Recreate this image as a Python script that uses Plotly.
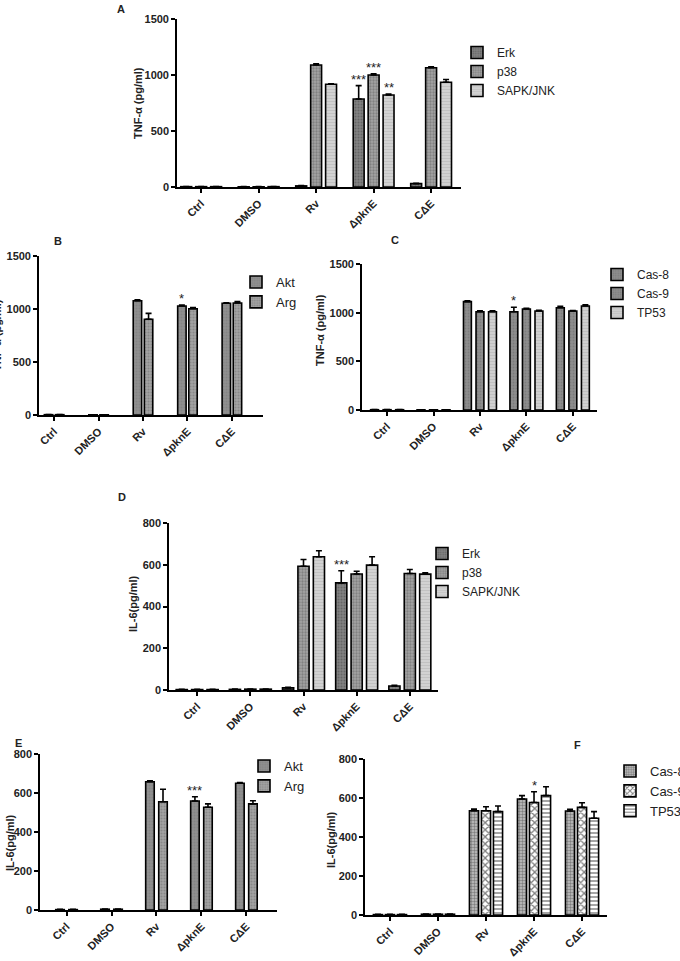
import plotly.graph_objects as go

W, H = 680, 961
FONT = "Liberation Sans, Arial, sans-serif"

cats = ["Ctrl", "DMSO", "Rv", "ΔpknE", "CΔE"]

# ---- Panel A: TNF-α (pg/ml), MAPK inhibitors ----
a_erk = [3, 2, 10, 786, 30]
a_erk_err = [1, 1, 3, 119, 4]
a_p38 = [3, 2, 1089, 1000, 1065]
a_p38_err = [1, 1, 10, 10, 8]
a_sapk = [3, 3, 917, 821, 935]
a_sapk_err = [1, 1, 5, 10, 25]

# ---- Panel B: TNF-α, Akt / Arg ----
b_akt = [3, 2, 1078, 1028, 1054]
b_akt_err = [1, 1, 8, 10, 4]
b_arg = [3, 2, 903, 1003, 1057]
b_arg_err = [1, 1, 56, 10, 13]

# ---- Panel C: TNF-α, Cas-8 / Cas-9 / TP53 ----
c_cas8 = [3, 2, 1113, 1010, 1050]
c_cas8_err = [1, 1, 8, 45, 15]
c_cas9 = [3, 2, 1010, 1038, 1017]
c_cas9_err = [1, 1, 10, 8, 5]
c_tp53 = [3, 2, 1010, 1017, 1069]
c_tp53_err = [1, 1, 10, 8, 13]

# ---- Panel D: IL-6, MAPK inhibitors ----
d_erk = [2, 3, 10, 513, 19]
d_erk_err = [1, 1, 3, 58, 3]
d_p38 = [2, 4, 593, 556, 558]
d_p38_err = [1, 1, 32, 13, 19]
d_sapk = [2, 4, 638, 598, 555]
d_sapk_err = [1, 1, 29, 40, 7]

# ---- Panel E: IL-6, Akt / Arg ----
e_akt = [2, 4, 658, 559, 650]
e_akt_err = [1, 1, 5, 22, 3]
e_arg = [2, 4, 555, 527, 544]
e_arg_err = [1, 1, 64, 17, 16]

# ---- Panel F: IL-6, Cas-8 / Cas-9 / TP53 ----
f_cas8 = [2, 4, 535, 595, 533]
f_cas8_err = [1, 1, 8, 17, 9]
f_cas9 = [2, 4, 535, 577, 552]
f_cas9_err = [1, 1, 20, 55, 24]
f_tp53 = [2, 4, 530, 612, 496]
f_tp53_err = [1, 1, 29, 46, 34]

STYLES = {
    "erk": dict(shape=".", fg="#474747", bg="#828282", size=3, sol=0.35),
    "p38": dict(shape=".", fg="#5e5e5e", bg="#a4a4a4", size=3, sol=0.45),
    "sapk": dict(shape="-", fg="#b0b0b0", bg="#d2d2d2", size=3, sol=0.3),
    "akt": dict(shape=".", fg="#7a7a7a", bg="#8f8f8f", size=3, sol=0.3),
    "arg": dict(shape=".", fg="#6e6e6e", bg="#a3a3a3", size=3, sol=0.4),
    "c8": dict(shape=".", fg="#6a6a6a", bg="#8d8d8d", size=3, sol=0.3),
    "c9": dict(shape=".", fg="#6a6a6a", bg="#8d8d8d", size=3, sol=0.3),
    "tp53": dict(shape="-", fg="#b0b0b0", bg="#d0d0d0", size=3, sol=0.3),
    "f8": dict(shape=".", fg="#3a3a3a", bg="#c4c4c4", size=3, sol=0.5),
    "f9": dict(shape="x", fg="#000000", bg="#ffffff", size=5, sol=0.45),
    "f53": dict(shape="-", fg="#000000", bg="#ffffff", size=4, sol=0.35),
}

panels = [
    dict(label="A", px=(177, 461), py=(19, 187), ymax=1500, dtick=500, xr=(-0.42, 4.52),
         slot=0.26, bw=0.19, ytitle="TNF-α (pg/ml)", yt=(138, 103), lab=(121, 9),
         leg=(457, 38), lfs=12,
         series=[("Erk", a_erk, a_erk_err, "erk"), ("p38", a_p38, a_p38_err, "p38"),
                 ("SAPK/JNK", a_sapk, a_sapk_err, "sapk")],
         sig=[(3, 0, "***"), (3, 1, "***"), (3, 2, "**")]),
    dict(label="B", px=(39, 263), py=(256, 415), ymax=1500, dtick=500, xr=(-0.34, 4.70),
         slot=0.25, bw=0.19, ytitle="TNF-α (pg/ml)", yt=(-3, 335), lab=(58, 241),
         leg=(236, 267), lfs=13,
         series=[("Akt", b_akt, b_akt_err, "akt"), ("Arg", b_arg, b_arg_err, "arg")],
         sig=[(3, 0, "*")]),
    dict(label="C", px=(362, 597), py=(264, 410), ymax=1500, dtick=500, xr=(-0.54, 4.52),
         slot=0.27, bw=0.17, ytitle="TNF-α (pg/ml)", yt=(320, 330), lab=(395, 240),
         leg=(597, 260), lfs=12,
         series=[("Cas-8", c_cas8, c_cas8_err, "c8"), ("Cas-9", c_cas9, c_cas9_err, "c9"),
                 ("TP53", c_tp53, c_tp53_err, "tp53")],
         sig=[(3, 0, "*")]),
    dict(label="D", px=(169, 438), py=(523, 690), ymax=800, dtick=200, xr=(-0.53, 4.53),
         slot=0.29, bw=0.21, ytitle="IL-6(pg/ml)", yt=(133, 604), lab=(122, 497),
         leg=(422, 539), lfs=12,
         series=[("Erk", d_erk, d_erk_err, "erk"), ("p38", d_p38, d_p38_err, "p38"),
                 ("SAPK/JNK", d_sapk, d_sapk_err, "sapk")],
         sig=[(3, 0, "***")]),
    dict(label="E", px=(40, 277), py=(754, 910), ymax=800, dtick=200, xr=(-0.59, 4.68),
         slot=0.29, bw=0.19, ytitle="IL-6(pg/ml)", yt=(10, 843), lab=(18, 743),
         leg=(244, 751), lfs=13,
         series=[("Akt", e_akt, e_akt_err, "akt"), ("Arg", e_arg, e_arg_err, "arg")],
         sig=[(3, 0, "***")]),
    dict(label="F", px=(365, 607), py=(759, 915), ymax=800, dtick=200, xr=(-0.52, 4.52),
         slot=0.25, bw=0.19, ytitle="IL-6(pg/ml)", yt=(331, 840), lab=(577, 745),
         leg=(610, 756), lfs=13,
         series=[("Cas-8", f_cas8, f_cas8_err, "f8"), ("Cas-9", f_cas9, f_cas9_err, "f9"),
                 ("TP53", f_tp53, f_tp53_err, "f53")],
         sig=[(3, 1, "*")]),
]

fig = go.Figure()
annotations = []
layout = {}

for i, p in enumerate(panels):
    n = i + 1
    sfx = "" if n == 1 else str(n)
    xa, ya = "x" + sfx, "y" + sfx
    legname = "legend" + sfx
    ns = len(p["series"])
    for j, (name, vals, errs, sk) in enumerate(p["series"]):
        st = STYLES[sk]
        off = (j - (ns - 1) / 2) * p["slot"] - p["bw"] / 2
        fig.add_trace(go.Bar(
            x=list(range(len(cats))), y=vals, name=name, xaxis=xa, yaxis=ya,
            legend=legname, width=p["bw"], offset=off,
            marker=dict(color=st["bg"], line=dict(color="black", width=1.6),
                        pattern=dict(shape=st["shape"], fgcolor=st["fg"], bgcolor=st["bg"],
                                     size=st["size"], solidity=st["sol"])),
            error_y=dict(type="data", symmetric=False, array=errs,
                         arrayminus=[0] * len(errs), color="black", thickness=1.6, width=3),
            hoverinfo="skip",
        ))
    # significance marks
    for (ci, sj, txt) in p["sig"]:
        name, vals, errs, sk = p["series"][sj]
        xc = ci + (sj - (ns - 1) / 2) * p["slot"]
        annotations.append(dict(x=xc, y=vals[ci] + errs[ci], xref=xa, yref=ya, text=txt,
                                showarrow=False, yanchor="bottom", yshift=-3,
                                font=dict(family=FONT, size=13, color="#222")))
    x0, x1 = p["px"]
    yt, yb = p["py"]
    layout["xaxis" + sfx] = dict(
        domain=[x0 / W, x1 / W], anchor=ya, range=list(p["xr"]),
        tickvals=list(range(len(cats))), ticktext=cats, tickangle=-45,
        showline=True, linecolor="black", linewidth=1.6, ticks="outside", ticklen=4,
        tickwidth=1.5, tickcolor="black", showgrid=False, zeroline=False,
        tickfont=dict(family=FONT, size=11, color="#222", weight="bold"), fixedrange=True)
    layout["yaxis" + sfx] = dict(
        domain=[1 - yb / H, 1 - yt / H], anchor=xa, range=[0, p["ymax"]],
        dtick=p["dtick"], tick0=0, showline=True, linecolor="black", linewidth=1.6,
        ticks="outside", ticklen=4, tickwidth=1.5, tickcolor="black", showgrid=False,
        zeroline=False, tickfont=dict(family=FONT, size=11, color="#222", weight="bold"),
        fixedrange=True)
    lx, ly = p["leg"]
    layout[legname] = dict(x=lx / W, y=1 - ly / H, xanchor="left", yanchor="top",
                           xref="paper", yref="paper", bgcolor="rgba(0,0,0,0)",
                           font=dict(family=FONT, size=p["lfs"], color="#222"),
                           tracegroupgap=0, itemwidth=30)
    # y-axis title
    tx, ty = p["yt"]
    annotations.append(dict(x=tx / W, y=1 - ty / H, xref="paper", yref="paper",
                            text="<b>" + p["ytitle"] + "</b>", textangle=-90, showarrow=False,
                            xanchor="center", yanchor="middle",
                            font=dict(family=FONT, size=11, color="#222")))
    # panel label
    lxp, lyp = p["lab"]
    annotations.append(dict(x=lxp / W, y=1 - lyp / H, xref="paper", yref="paper",
                            text="<b>" + p["label"] + "</b>", showarrow=False,
                            xanchor="center", yanchor="middle",
                            font=dict(family=FONT, size=11, color="#222")))

fig.update_layout(
    width=W, height=H, margin=dict(l=0, r=0, t=0, b=0, autoexpand=False),
    paper_bgcolor="white", plot_bgcolor="white", barmode="overlay",
    showlegend=True, annotations=annotations, **layout,
)

fig.write_html("out.html", config={"displayModeBar": False},
               post_script="document.body.style.margin='0';document.body.style.overflow='hidden';")
